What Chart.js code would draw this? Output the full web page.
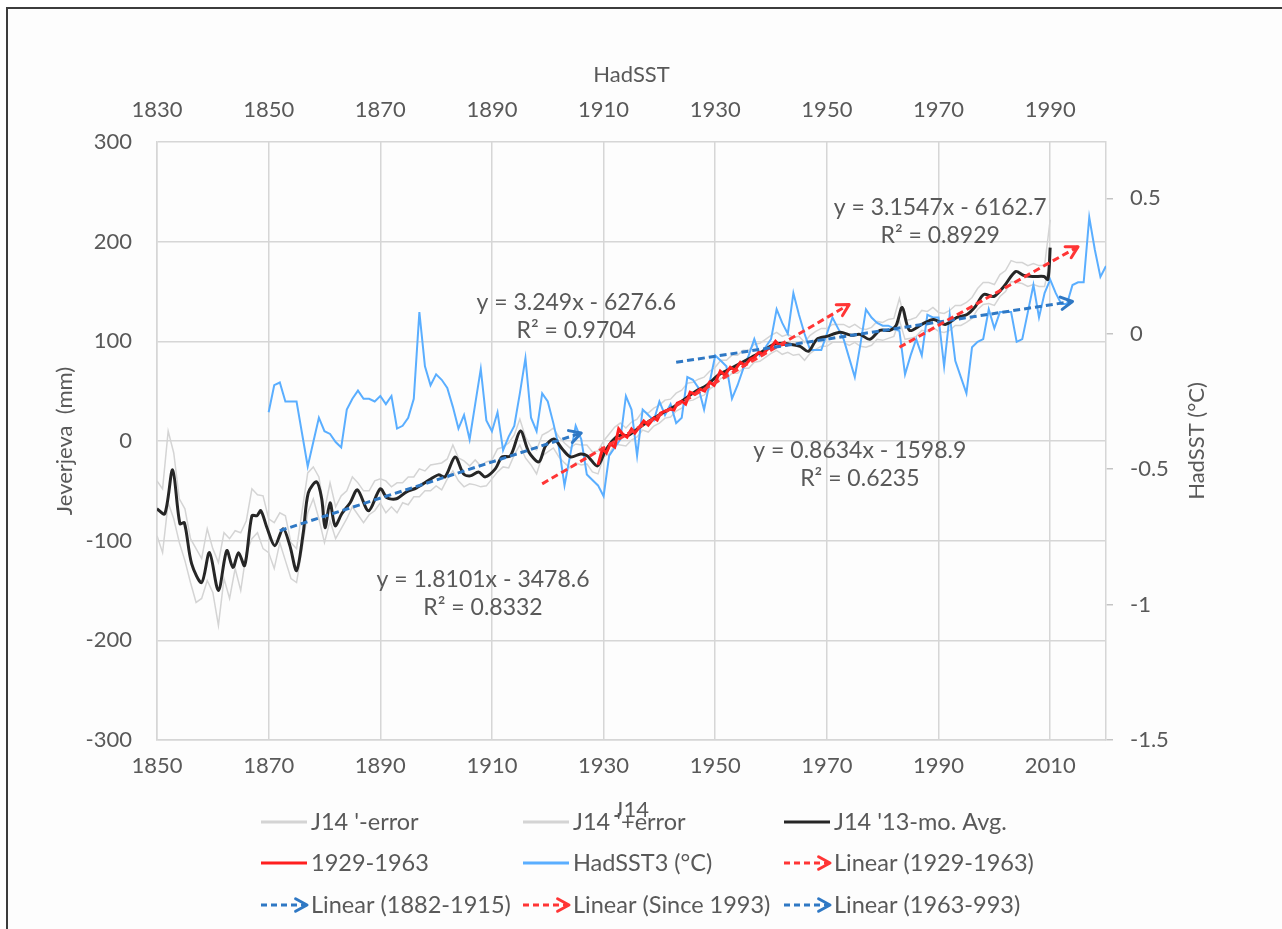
<!DOCTYPE html>
<html><head><meta charset="utf-8">
<script src="https://cdn.jsdelivr.net/npm/chart.js@4.4.1/dist/chart.umd.min.js"></script>
<style>
html,body{margin:0;padding:0;background:#fff;}
#wrap{position:relative;width:1282px;height:929px;overflow:hidden;}
#frame{position:absolute;left:6px;top:7px;width:1300px;height:940px;border-top:2px solid #3c3c3c;border-left:2px solid #3c3c3c;background:#fdfdfd;}
canvas{position:absolute;left:0;top:0;}
</style></head><body>
<div id="wrap"><div id="frame"></div><canvas id="c" width="1282" height="929"></canvas></div>
<script>
// ---- tick labels ----
const bottomTicks = [1850, 1870, 1890, 1910, 1930, 1950, 1970, 1990, 2010];
const topTicks = [1830, 1850, 1870, 1890, 1910, 1930, 1950, 1970, 1990];
const leftTicks = [-300, -200, -100, 0, 100, 200, 300];
const rightTicks = [-1.5, -1, -0.5, 0, 0.5];

// ---- J14 error bands (annual, 1850-2010) ----
const errYears = Array.from({length: 161}, (_, i) => 1850 + i);
const j14MinusError = [
  -95,-112,-62,-78,-102,-120,-142,-162,-158,-140,
  -152,-185,-138,-158,-128,-150,-112,-98,-92,-108,
  -112,-128,-102,-120,-138,-142,-108,-72,-58,-78,
  -102,-80,-98,-88,-78,-66,-74,-82,-74,-70,
  -62,-72,-66,-72,-62,-64,-56,-56,-50,-50,
  -45,-49,-38,-30,-40,-46,-43,-44,-46,-45,
  -38,-31,-26,-27,-14,-4,-17,-24,-33,-15,
  -11,-7,-16,-22,-27,-22,-24,-23,-31,-33,
  -16,-13,-3,-4,-5,1,4,11,9,15,
  18,23,24,30,33,40,41,44,46,52,
  56,63,63,68,68,73,73,79,80,84,
  88,91,87,89,86,87,81,88,92,95,
  95,99,99,99,96,99,95,94,96,102,
  101,103,105,121,102,103,105,111,110,114,
  110,109,111,116,116,119,123,132,137,138,
  136,145,150,160,159,158,155,157,155,155,
  182];
const j14PlusError = [
  -40,-48,10,-12,-58,-68,-98,-108,-118,-88,
  -108,-122,-92,-98,-90,-92,-80,-48,-54,-55,
  -78,-82,-72,-75,-102,-108,-70,-32,-26,-36,
  -70,-42,-66,-55,-50,-36,-42,-50,-50,-40,
  -38,-40,-46,-42,-42,-36,-36,-28,-30,-24,
  -23,-22,-18,-4,-17,-20,-25,-19,-25,-21,
  -19,-8,-6,-2,6,22,4,-6,-9,6,
  9,13,4,-2,-7,-3,-4,-4,-11,-10,
  0,7,14,18,13,19,22,30,28,33,
  36,41,42,48,51,58,59,62,64,70,
  74,81,81,86,86,91,91,97,98,102,
  106,109,105,107,104,105,99,106,110,113,
  113,117,117,117,114,117,113,112,114,120,
  119,122,123,143,121,122,124,131,130,134,
  129,128,131,136,136,139,144,153,159,159,
  157,167,171,181,179,179,176,178,176,176,
  222];

// ---- J14 13-month average ----
const avgYears = [
  1850.0,1851.4,1852.8,1854.1,1854.9,1856.2,1858.0,1859.4,1861.0,1862.5,
  1863.6,1864.6,1865.7,1867.0,1867.9,1868.6,1869.7,1871.1,1872.6,1873.8,
  1875.0,1876.2,1877.1,1878.6,1879.5,1880.1,1881.0,1881.9,1883.1,1884.6,
  1885.9,1887.9,1890.0,1891.2,1892.9,1894.7,1896.5,1898.8,1900.4,1901.6,
  1903.4,1904.9,1906.1,1907.6,1908.8,1910.6,1911.8,1913.3,1915.1,1916.6,
  1918.4,1919.6,1921.1,1922.6,1924.1,1925.9,1927.1,1928.9,1930.5,1932.5,
  1934.5,1936.5,1938.5,1940.5,1942.5,1944.5,1946.5,1948.5,1950.5,1952.5,
  1954.5,1956.5,1958.5,1960.5,1962.3,1963.4,1965.2,1966.7,1968.2,1970.0,
  1972.4,1974.4,1975.9,1977.7,1979.5,1981.3,1982.4,1983.5,1984.8,1987.0,
  1989.1,1991.2,1993.3,1995.1,1996.6,1998.1,1999.9,2001.7,2003.8,2005.3,
  2007.1,2008.9,2009.6,2010.0];
const avgValues = [
  -68,-73,-29,-83,-82,-123,-142,-112,-150,-110,
  -127,-112,-125,-75,-75,-70,-87,-105,-88,-105,
  -130,-92,-52,-41,-58,-87,-62,-85,-73,-62,
  -49,-70,-48,-57,-58,-51,-47,-39,-34,-36,
  -16,-33,-35,-31,-36,-28,-16,-15,10,-11,
  -21,-5,2,-8,-16,-13,-15,-25,-8,5,
  6,14,21,28,34,42,50,56,66,72,
  78,84,90,97,98,97,95,90,102,105,
  109,106,107,102,111,111,116,134,111,117,
  122,117,124,127,135,147,145,155,170,166,
  165,165,162,194];

// ---- 1929-1963 segment ----
const redYears = [
  1929.0,1929.8,1930.5,1931.2,1932.0,1932.7,1933.4,1934.2,1935.0,1935.6,
  1936.4,1937.2,1938.0,1939.0,1939.6,1940.2,1941.0,1941.9,1942.6,1943.2,
  1944.0,1944.7,1945.5,1946.3,1947.3,1948.1,1949.0,1949.8,1950.9,1951.7,
  1952.7,1953.5,1954.5,1955.3,1956.3,1957.0,1957.8,1958.6,1959.3,1960.0,
  1960.8,1961.5,1962.3,1963.0];
const redValues = [
  -24,-8,-12,-3,-6,12,7,4,12,8,
  14,20,16,23,21,28,30,32,31,38,
  40,37,49,47,52,50,59,56,70,66,
  74,71,79,76,82,84,89,87,92,94,
  100,96,97,96];

// ---- HadSST3 (°C), on the top (HadSST) year axis ----
const hadsstYears = Array.from({length: 151}, (_, i) => 1850 + i);
const hadsstValues = [
  -0.29,-0.19,-0.18,-0.25,-0.25,-0.25,-0.37,-0.49,-0.40,-0.31,
  -0.36,-0.37,-0.40,-0.42,-0.28,-0.24,-0.21,-0.24,-0.24,-0.25,
  -0.23,-0.26,-0.23,-0.35,-0.34,-0.31,-0.24,0.08,-0.12,-0.19,
  -0.15,-0.17,-0.20,-0.27,-0.35,-0.30,-0.39,-0.26,-0.13,-0.32,
  -0.36,-0.29,-0.43,-0.38,-0.34,-0.22,-0.09,-0.31,-0.36,-0.22,
  -0.25,-0.33,-0.42,-0.56,-0.45,-0.34,-0.39,-0.52,-0.54,-0.56,
  -0.60,-0.45,-0.42,-0.39,-0.23,-0.28,-0.45,-0.28,-0.30,-0.32,
  -0.25,-0.30,-0.26,-0.33,-0.31,-0.16,-0.17,-0.20,-0.28,-0.18,
  -0.08,-0.10,-0.12,-0.24,-0.19,-0.13,-0.08,-0.02,-0.08,-0.05,
  -0.02,0.09,0.04,0.00,0.15,0.07,0.00,-0.06,-0.06,-0.06,
  0.00,0.06,0.02,-0.02,-0.09,-0.16,-0.04,0.09,0.06,0.04,
  0.03,0.03,0.02,0.01,-0.15,-0.08,-0.02,-0.08,0.07,0.06,
  0.06,-0.12,0.07,-0.10,-0.16,-0.22,-0.05,-0.03,-0.02,0.09,
  0.02,0.08,0.08,0.08,-0.03,-0.02,0.08,0.18,0.06,0.15,
  0.20,0.15,0.11,0.11,0.18,0.19,0.19,0.43,0.31,0.21,
  0.25];

// ---- linear trend lines (start, end) ----
const trend1882Years = [1872, 1926];   const trend1882Values = [-90, 8];
const trend1929Years = [1919, 1974];   const trend1929Values = [-43, 137];
const trend1963Years = [1943, 2014];   const trend1963Values = [79, 140];
const trend1993Years = [1983, 2015];   const trend1993Values = [94, 195];

// ---- trend equations (anchored in data coords) ----
const equations = [
  {x: 1990.3, y: 234, lines: ['y = 3.1547x - 6162.7', 'R\u00B2 = 0.8929']},
  {x: 1925.1, y: 139, lines: ['y = 3.249x - 6276.6', 'R\u00B2 = 0.9704']},
  {x: 1975.9, y: -9.5, lines: ['y = 0.8634x - 1598.9', 'R\u00B2 = 0.6235']},
  {x: 1908.4, y: -139, lines: ['y = 1.8101x - 3478.6', 'R\u00B2 = 0.8332']}
];

const pts = (xs, ys) => xs.map((x, i) => ({x, y: ys[i]}));

const TEXT = '#595959', GRID = '#d6d6d6';
const RED = '#ff1f1f', RED_D = '#ff3535', BLUE_D = '#2f78c4', SST = '#5aaeff', GRAY = '#d4d4d4';

Chart.defaults.font.family = 'Lato';
Chart.defaults.font.size = 22;
Chart.defaults.color = TEXT;

function arrowHead(ctx, x0, y0, x1, y1, color, w) {
  const a = Math.atan2(y1 - y0, x1 - x0), L = 13, s = 0.5;
  ctx.save();
  ctx.setLineDash([]);
  ctx.strokeStyle = color; ctx.lineWidth = w; ctx.lineCap = 'round'; ctx.lineJoin = 'round';
  ctx.beginPath();
  ctx.moveTo(x1 - L * Math.cos(a - s), y1 - L * Math.sin(a - s));
  ctx.lineTo(x1, y1);
  ctx.lineTo(x1 - L * Math.cos(a + s), y1 - L * Math.sin(a + s));
  ctx.stroke();
  ctx.restore();
}

const extras = {
  id: 'extras',
  afterDatasetsDraw(chart) {
    const ctx = chart.ctx;
    chart.data.datasets.forEach((ds, i) => {
      if (!ds.arrow) return;
      const d = chart.getDatasetMeta(i).data;
      const a = d[d.length - 2], b = d[d.length - 1];
      arrowHead(ctx, a.x, a.y, b.x, b.y, ds.borderColor, ds.borderWidth);
    });
    const xs = chart.scales.x, ys = chart.scales.y;
    ctx.save();
    ctx.font = '23px Lato'; ctx.fillStyle = TEXT;
    ctx.textAlign = 'center'; ctx.textBaseline = 'middle';
    equations.forEach(eq => {
      const px = xs.getPixelForValue(eq.x), py = ys.getPixelForValue(eq.y);
      eq.lines.forEach((t, k) => ctx.fillText(t, px, py + k * 28));
    });
    ctx.restore();
  },
  afterDraw(chart) {
    const ctx = chart.ctx, area = chart.chartArea;
    // right axis title (reads bottom to top)
    ctx.save();
    ctx.font = '22px Lato'; ctx.fillStyle = TEXT;
    ctx.textAlign = 'center'; ctx.textBaseline = 'middle';
    ctx.translate(1197, (area.top + area.bottom) / 2);
    ctx.rotate(-Math.PI / 2);
    ctx.fillText('HadSST (\u00B0C)', 0, 0);
    ctx.restore();
    // legend: 3 columns x 3 rows
    const cols = [261, 523, 784], rows = [822, 863, 905];
    const items = chart.data.datasets.filter(d => d.legendIndex !== undefined)
      .sort((a, b) => a.legendIndex - b.legendIndex);
    items.forEach((ds, k) => {
      const x = cols[k % 3], y = rows[Math.floor(k / 3)];
      ctx.save();
      ctx.strokeStyle = ds.borderColor;
      ctx.lineWidth = 3;
      if (ds.arrow) {
        ctx.setLineDash([6, 4]);
        ctx.beginPath(); ctx.moveTo(x, y); ctx.lineTo(x + 44, y); ctx.stroke();
        arrowHead(ctx, x, y, x + 46, y, ds.borderColor, 3);
      } else {
        ctx.beginPath(); ctx.moveTo(x, y); ctx.lineTo(x + 46, y); ctx.stroke();
      }
      ctx.fillStyle = TEXT; ctx.font = '23.5px Lato';
      ctx.textAlign = 'left'; ctx.textBaseline = 'middle';
      ctx.fillText(ds.label, x + 50, y);
      ctx.restore();
    });
  }
};

const line = (extra) => Object.assign({pointRadius: 0, pointHoverRadius: 0, fill: false, tension: 0}, extra);

new Chart(document.getElementById('c'), {
  type: 'line',
  data: {
    datasets: [
      line({label: "J14 '-error", legendIndex: 0, data: pts(errYears, j14MinusError), borderColor: GRAY, borderWidth: 1.5, order: 10}),
      line({label: "J14 '+error", legendIndex: 1, data: pts(errYears, j14PlusError), borderColor: GRAY, borderWidth: 1.5, order: 10}),
      line({label: 'HadSST3 (\u00B0C)', legendIndex: 4, data: pts(hadsstYears, hadsstValues), xAxisID: 'x2', yAxisID: 'y2', borderColor: SST, borderWidth: 2, order: 8}),
      line({label: "J14 '13-mo. Avg.", legendIndex: 2, data: pts(avgYears, avgValues), borderColor: '#262626', borderWidth: 3, tension: 0.3, order: 6}),
      line({label: '1929-1963', legendIndex: 3, data: pts(redYears, redValues), borderColor: RED, borderWidth: 3, order: 5}),
      line({label: 'Linear (1929-1963)', legendIndex: 5, arrow: true, data: pts(trend1929Years, trend1929Values), borderColor: RED_D, borderWidth: 3, borderDash: [7, 4], order: 2}),
      line({label: 'Linear (1882-1915)', legendIndex: 6, arrow: true, data: pts(trend1882Years, trend1882Values), borderColor: BLUE_D, borderWidth: 3, borderDash: [7, 4], order: 2}),
      line({label: 'Linear (Since 1993)', legendIndex: 7, arrow: true, data: pts(trend1993Years, trend1993Values), borderColor: RED_D, borderWidth: 3, borderDash: [7, 4], order: 1}),
      line({label: 'Linear (1963-993)', legendIndex: 8, arrow: true, data: pts(trend1963Years, trend1963Values), borderColor: BLUE_D, borderWidth: 3, borderDash: [7, 4], order: 1})
    ]
  },
  options: {
    responsive: false,
    animation: false,
    devicePixelRatio: 1,
    layout: {padding: {left: 40, right: 76, top: 62, bottom: 106}},
    plugins: {legend: {display: false}, tooltip: {enabled: false}},
    scales: {
      x: {
        type: 'linear', position: 'bottom', min: 1850, max: 2020,
        afterBuildTicks: s => { s.ticks = bottomTicks.map(v => ({value: v})); },
        afterFit: s => { s.height = 83; },
        ticks: {padding: 13, callback: v => String(v)},
        grid: {color: GRID, lineWidth: 1.5, drawTicks: false},
        border: {color: GRID, width: 1.5},
        title: {display: true, text: 'J14', padding: 0}
      },
      x2: {
        type: 'linear', position: 'top', min: 1830, max: 2000,
        afterBuildTicks: s => { s.ticks = topTicks.map(v => ({value: v})); },
        afterFit: s => { s.height = 80; },
        ticks: {padding: 19, callback: v => String(v)},
        grid: {drawOnChartArea: false, drawTicks: false},
        border: {display: false},
        title: {display: true, text: 'HadSST', padding: 0}
      },
      y: {
        type: 'linear', position: 'left', min: -300, max: 300,
        afterBuildTicks: s => { s.ticks = leftTicks.map(v => ({value: v})); },
        afterFit: s => { s.width = 117; },
        ticks: {padding: 25, callback: v => String(v)},
        grid: {color: GRID, lineWidth: 1.5, drawTicks: false},
        border: {color: GRID, width: 1.5},
        title: {display: true, text: 'Jeverjeva  (mm)', padding: {top: 12, bottom: 0}}
      },
      y2: {
        type: 'linear', position: 'right', min: -1.5, max: 0.708,
        afterBuildTicks: s => { s.ticks = rightTicks.map(v => ({value: v})); },
        afterFit: s => { s.width = 100; },
        ticks: {padding: 17, callback: v => String(v)},
        grid: {drawOnChartArea: false, drawTicks: true, tickLength: 7, color: '#c4c4c4', lineWidth: 1.5},
        border: {color: GRID, width: 1.5}
      }
    }
  },
  plugins: [extras]
});
</script>
</body></html>
